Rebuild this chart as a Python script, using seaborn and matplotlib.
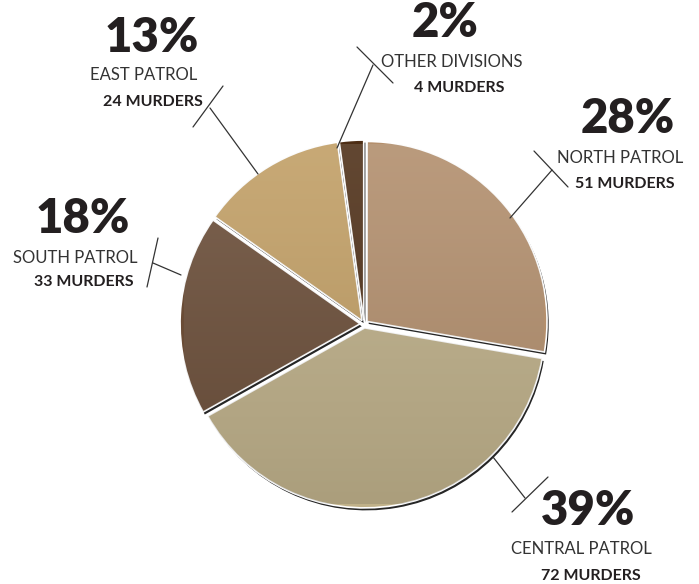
import numpy as np
import matplotlib
matplotlib.use("Agg")
import matplotlib.pyplot as plt
import matplotlib.patheffects as pe
from matplotlib.lines import Line2D
import seaborn as sns

# ---- data ----
divisions = ["NORTH PATROL", "CENTRAL PATROL", "SOUTH PATROL", "EAST PATROL", "OTHER DIVISIONS"]
murders = [51, 72, 33, 24, 4]
colors = ["#b48f6c", "#c0b189", "#6a4c36", "#c4a064", "#4d2d14"]

sns.set_theme(style="white")
plt.rcParams["font.family"] = ["Lato", "DejaVu Sans"]

W, H = 699, 584
fig = plt.figure(figsize=(W / 100, H / 100), dpi=100)
fig.patch.set_facecolor("white")

cx, cy, R = 364, 324, 180
ax = fig.add_axes([(cx - R) / W, (H - cy - R) / H, 2 * R / W, 2 * R / H])

palette = sns.color_palette(colors)
wedges, _ = ax.pie(
    murders,
    colors=palette,
    startangle=90,
    counterclock=False,
    explode=[0.022] * len(murders),
    radius=1.0,
    wedgeprops=dict(edgecolor="white", linewidth=1.2),
)
ax.axis("off")
for w in wedges:
    w.set_clip_on(False)
    w.set_path_effects([
        pe.SimplePatchShadow(offset=(1.2, -1.8), shadow_rgbFace="black", alpha=0.85),
        pe.Normal(),
    ])

# subtle vertical shading on each wedge
grad = np.linspace(0, 1, 256).reshape(-1, 1)
for w in wedges:
    im = ax.imshow(grad, extent=[-1.1, 1.1, -1.1, 1.1], cmap="Greys", alpha=0.15,
                   aspect="auto", origin="upper", zorder=w.get_zorder() + 0.1,
                   vmin=-0.3, vmax=1.2)
    im.set_clip_path(w)
ax.set_xlim(-1, 1)
ax.set_ylim(-1, 1)

total = sum(murders)
pcts = [round(100 * m / total) for m in murders]

# label layout (pixel positions): (pct x, pct baseline), (name x, baseline), (count x, baseline)
layout = {
    "NORTH PATROL": ((628, 133), (620.5, 163), (625, 188)),
    "CENTRAL PATROL": ((588.5, 525), (581, 554), (591, 580)),
    "SOUTH PATROL": ((82.5, 233), (75, 263), (84, 286)),
    "EAST PATROL": ((152, 52), (143.5, 80), (153, 106)),
    "OTHER DIVISIONS": ((445, 37), (451.5, 67), (459.5, 92)),
}

def fx(x):
    return x / W

def fy(y):
    return 1 - y / H

txtc = "#231f20"
for name, m, p in zip(divisions, murders, pcts):
    (px, py), (nx, ny), (mx, my) = layout[name]
    fig.text(fx(px), fy(py), f"{p}%", ha="center", va="baseline",
             fontsize=34, fontweight="heavy", color=txtc)
    fig.text(fx(nx), fy(ny), name, ha="center", va="baseline",
             fontsize=12, fontweight="normal", color="#333333")
    fig.text(fx(mx), fy(my), f"{m} MURDERS", ha="center", va="baseline",
             fontsize=11.5, fontweight="bold", color=txtc)

leaders = [
    ((210, 108), (258, 174), (193, 127), (223, 86)),
    ((153, 263), (181, 275), (158, 238), (147, 287)),
    ((337, 148), (373, 65), (357, 47), (393, 83)),
    ((510, 218), (552, 170), (534, 151), (568, 187)),
    ((493, 457), (525, 498), (548, 477), (512, 512)),
]
for a, b, c, d in leaders:
    for p1, p2 in ((a, b), (c, d)):
        fig.add_artist(Line2D([fx(p1[0]), fx(p2[0])], [fy(p1[1]), fy(p2[1])],
                              color="#333333", lw=0.9))

fig.savefig("out.png", dpi=100, facecolor="white")
